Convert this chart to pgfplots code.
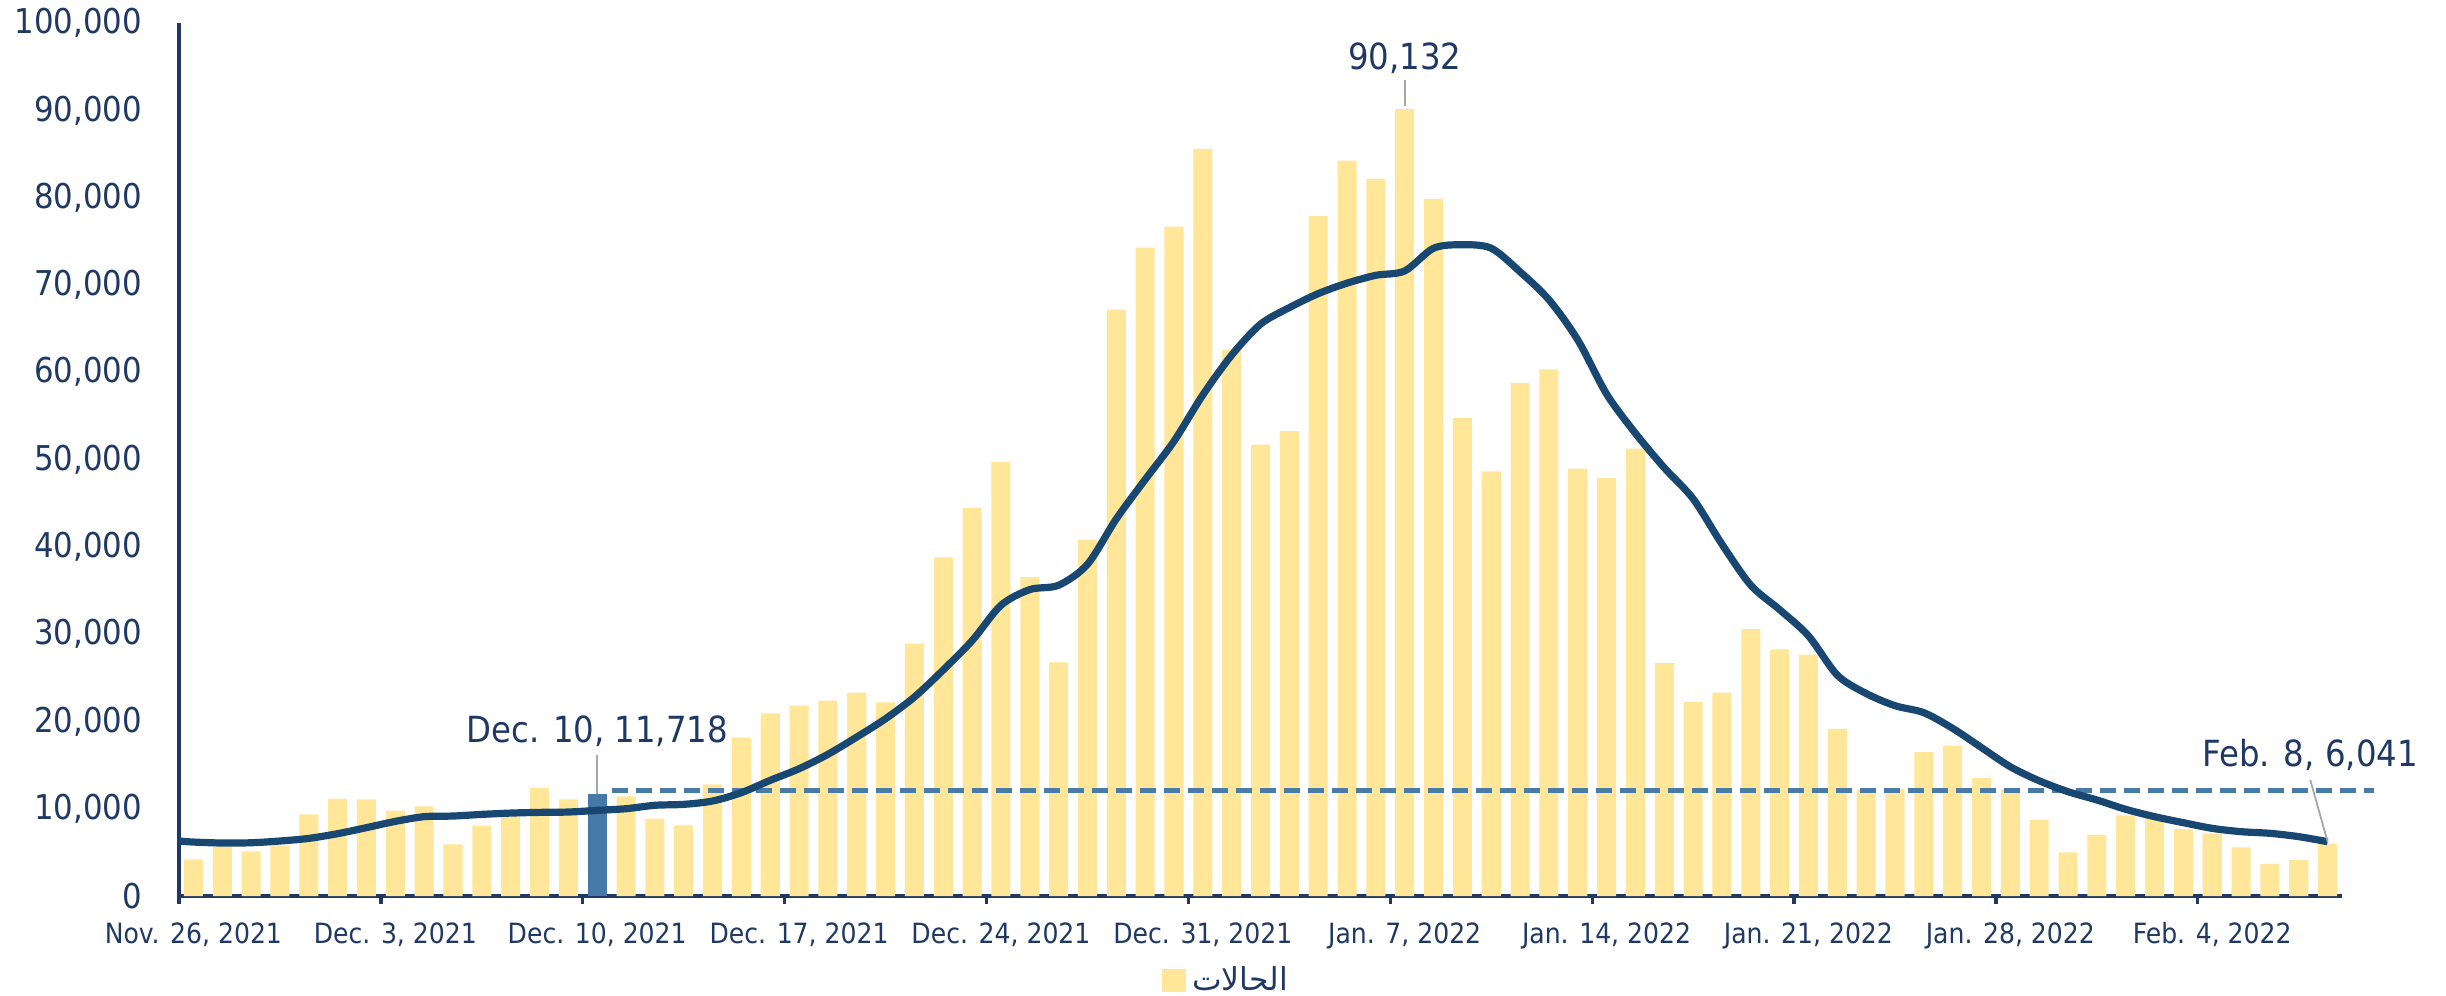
\documentclass[border=0pt]{standalone}
\usepackage{pgfplots}
\usepackage{pgfplotstable}
\pgfplotsset{compat=1.18}
\usepackage{fontspec}
\setmainfont{DejaVu Sans Condensed}
\newfontfamily\arabicfont[Script=Arabic]{DejaVu Sans}
\TeXXeTstate=1
\definecolor{barY}{RGB}{255,230,153}
\definecolor{hiB}{RGB}{70,121,166}
\definecolor{lineB}{RGB}{24,72,114}
\definecolor{dashB}{RGB}{72,123,168}
\definecolor{txt}{RGB}{31,56,100}
\definecolor{lead}{RGB}{166,166,166}

\pgfplotstableread{
x y
0.5 4200
1.5 5700
2.5 5100
3.5 5800
4.5 9350
5.5 11150
6.5 11070
7.5 9770
8.5 10270
9.5 5920
10.5 8060
11.5 9300
12.5 12350
13.5 11070
15.5 11420
16.5 8860
17.5 8090
18.5 12790
19.5 18140
20.5 20920
21.5 21800
22.5 22370
23.5 23290
24.5 22180
25.5 28900
26.5 38800
27.5 44460
28.5 49730
29.5 36520
30.5 26770
31.5 40820
32.5 67170
33.5 74260
34.5 76680
35.5 85580
36.5 62570
37.5 51700
38.5 53250
39.5 77880
40.5 84230
41.5 82140
42.5 90132
43.5 79850
44.5 54740
45.5 48630
46.5 58740
47.5 60330
48.5 48950
49.5 47870
50.5 51260
51.5 26690
52.5 22220
53.5 23310
54.5 30580
55.5 28250
56.5 27640
57.5 19140
58.5 12200
59.5 12300
60.5 16480
61.5 17230
62.5 13520
63.5 12220
64.5 8710
65.5 5000
66.5 6990
67.5 9240
68.5 9000
69.5 7670
70.5 7180
71.5 5570
72.5 3670
73.5 4120
74.5 6000
}\cases

\pgfplotstableread{
x y
0 6300
0.5 6180
1.5 6070
2.5 6100
3.5 6300
4.5 6600
5.5 7140
6.5 7830
7.5 8550
8.5 9090
9.5 9160
10.5 9350
11.5 9500
12.5 9580
13.5 9620
14.5 9810
15.5 10000
16.5 10390
17.5 10500
18.5 10880
19.5 11840
20.5 13250
21.5 14580
22.5 16230
23.5 18210
24.5 20310
25.5 22800
26.5 25900
27.5 29250
28.5 33300
29.5 35100
30.5 35600
31.5 38000
32.5 43200
33.5 47700
34.5 52100
35.5 57400
36.5 61960
37.5 65500
38.5 67400
39.5 69000
40.5 70200
41.5 71100
42.5 71600
43.5 74200
44.5 74600
45.5 74200
46.5 71500
47.5 68300
48.5 63700
49.5 57500
50.5 53000
51.5 49050
52.5 45500
53.5 40300
54.5 35600
55.5 32800
56.5 29800
57.5 25300
58.5 23200
59.5 21800
60.5 21000
61.5 19200
62.5 17000
63.5 14800
64.5 13200
65.5 11950
66.5 11000
67.5 9930
68.5 9090
69.5 8400
70.5 7750
71.5 7370
72.5 7180
73.5 6800
74.5 6220
}\avg

\begin{document}
\begin{tikzpicture}
\useasboundingbox (0,0) rectangle (815.33pt,331.67pt);
\begin{axis}[
  at={(59.67pt,33pt)}, anchor=south west,
  width=721pt, height=291pt, scale only axis,
  xmin=0, xmax=75, ymin=0, ymax=100000,
  clip=false,
  axis x line=bottom, axis y line=left,
  axis line style={-, draw=txt, line width=1.1pt},
  xtick={0,7,...,70},
  xticklabels={{Nov. 26, 2021},{Dec. 3, 2021},{Dec. 10, 2021},{Dec. 17, 2021},{Dec. 24, 2021},{Dec. 31, 2021},{Jan. 7, 2022},{Jan. 14, 2022},{Jan. 21, 2022},{Jan. 28, 2022},{Feb. 4, 2022}},
  tick align=outside,
  major tick length=2.7pt,
  xtick style={draw=txt, line width=1.1pt},
  ytick={0,10000,...,100000},
  ytick style={draw=none},
  scaled y ticks=false,
  /pgf/number format/.cd, fixed, 1000 sep={,}, assume math mode=true,
  /pgfplots/.cd,
  yticklabel style={font=\fontsize{11.4}{13}\selectfont, text=txt, anchor=east, inner sep=0pt, xshift=-9.5pt},
  xticklabel style={font=\fontsize{9.3}{11}\selectfont, text=txt, anchor=north, inner sep=0pt, xshift=4.8pt, yshift=-6pt},
  legend style={at={(0.485,-0.097)}, anchor=center, draw=none, fill=none,
    font=\arabicfont\fontsize{10.5}{12}\selectfont, text=txt},
]
\addplot[ybar, bar width=0.66, bar shift=0pt, fill=barY, draw=none,
  legend image code/.code={\fill[barY] (0pt,-3.8pt) rectangle (8pt,4pt);}]
  table[x=x,y=y] {\cases};
\addlegendentry{\beginR الحالات\endR}
\addplot[ybar, bar width=0.66, bar shift=0pt, fill=hiB, draw=none, forget plot]
  coordinates {(14.5,11718)};
\addplot[dashB, line width=1.6pt, dash pattern=on 5.6pt off 2.4pt, forget plot]
  coordinates {(15,12050) (76.1,12050)};
\addplot[lineB, line width=2.4pt, smooth, tension=0.5, forget plot]
  table[x=x,y=y] {\avg};
% annotations
\draw[lead, line width=0.6pt] (axis cs:42.5,90500) -- (axis cs:42.5,93500);
\node[font=\fontsize{12}{14}\selectfont, text=txt] at (axis cs:42.5,96000) {90,132};
\draw[lead, line width=0.6pt] (axis cs:14.5,11718) -- (axis cs:14.5,16150);
\node[font=\fontsize{12}{14}\selectfont, text=txt] at (axis cs:14.5,18900) {Dec. 10, 11,718};
\draw[lead, line width=0.6pt] (axis cs:74.5,6220) -- (axis cs:73.9,13300);
\node[font=\fontsize{12}{14}\selectfont, text=txt] at (axis cs:73.9,16150) {Feb. 8, 6,041};
\end{axis}
\end{tikzpicture}
\end{document}
